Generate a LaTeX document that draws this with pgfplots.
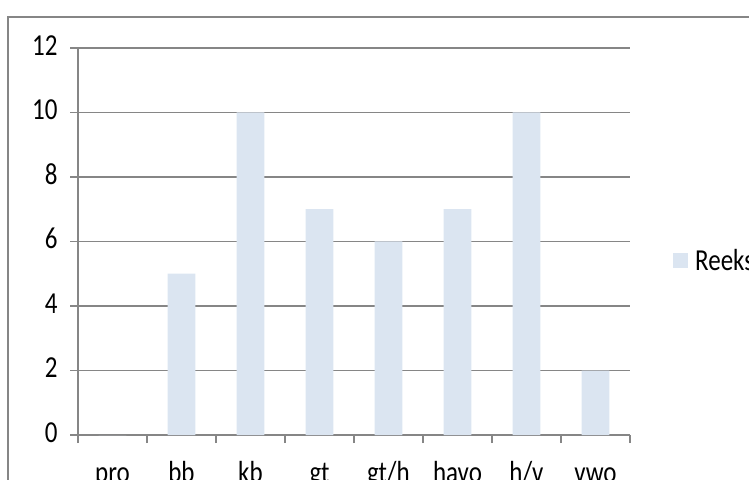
\documentclass[border=0pt]{standalone}
\usepackage{pgfplots}
\pgfplotsset{compat=1.18}
\usepackage{fontspec}
\setmainfont{Carlito}
\definecolor{barfill}{HTML}{DBE5F1}
\definecolor{gridc}{HTML}{868686}
\begin{document}
\begin{tikzpicture}[x=1pt,y=1pt]
\path[use as bounding box, clip] (0,0) rectangle (749,479);
\draw[gridc, line width=2pt] (8,462) rectangle (800,-50);
\begin{axis}[
  at={(78pt,44pt)}, anchor=south west,
  scale only axis, width=552pt, height=387pt,
  xmin=-0.5, xmax=7.5, ymin=0, ymax=12,
  ytick={0,2,...,12},
  xtick={-0.5,0.5,...,7.5},
  x tick label as interval,
  xticklabels={pro,bb,kb,gt,gt/h,havo,h/v,vwo,{}},
  axis lines*=left,
  axis line style={gridc, line width=1.3pt},
  ymajorgrids, grid style={gridc, line width=1.3pt},
  tick style={gridc, line width=1.3pt},
  tick align=outside,
  major tick length=8pt,
  typeset ticklabels with strut,
  /pgf/number format/assume math mode=true,
  tick label style={font=\fontsize{25}{30}\selectfont, text=black, yscale=1.22},
  yticklabel style={xshift=-9pt},
  xticklabel style={anchor=base, yshift=-32pt},
  ybar, bar width=27.6pt,
  legend style={at={(axis description cs:1,0.5)}, anchor=west, xshift=43pt, yshift=-19pt, draw=none, fill=none, inner sep=0pt, nodes={inner sep=0pt, yscale=1.22, font=\fontsize{25}{30}\selectfont}},
  legend image code/.code={\fill[#1] (0pt,-7.5pt) rectangle (15pt,7.5pt); \path (22pt,0pt);},
]
\addplot[fill=barfill, draw=none] coordinates {(0,0) (1,5) (2,10) (3,7) (4,6) (5,7) (6,10) (7,2)};
\addlegendentry{Reeks1}
\end{axis}
\end{tikzpicture}
\end{document}
